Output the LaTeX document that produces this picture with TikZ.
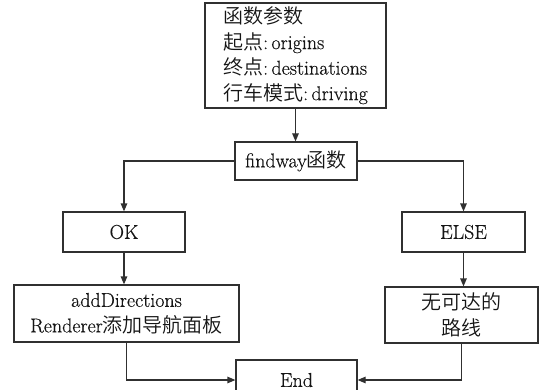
\documentclass[tikz,border=0pt]{standalone}
\usepackage{fontspec}
\setmainfont{Latin Modern Roman}[FakeBold=0.45]
\newfontfamily\cjk{Noto Sans CJK SC}[UprightFont={* DemiLight}]
\newcommand\zh[1]{{\cjk #1}}
\usetikzlibrary{arrows.meta}
\definecolor{ln}{HTML}{303030}
\definecolor{txt}{HTML}{151515}
\tikzset{
  box/.style={draw=ln, line width=1.2pt, text=txt, inner sep=0pt, align=center,
    font=\fontsize{20}{25.5}\selectfont},
  conn/.style={draw=ln, line width=1.2pt, -{Triangle[length=8pt,width=6.5pt]}}
}
\begin{document}
\begin{tikzpicture}[x=1pt,y=-1pt]
\clip (0,0) rectangle (540,390);
\useasboundingbox (0,0) rectangle (540,390);
\node[box, minimum width=181pt, minimum height=105pt, align=left] (params) at (295.5,55.5)
  {\zh{函数参数}\\\zh{起点}:\,origins\\\zh{终点}:\,destinations\\\zh{行车模式}:\,driving};
\node[box, minimum width=122pt, minimum height=38pt] (find) at (296,161) {findway\zh{函数}};
\node[box, minimum width=122pt, minimum height=40pt] (ok) at (124,232) {OK};
\node[box, minimum width=123pt, minimum height=40pt] (else) at (463.5,232) {ELSE};
\node[box, minimum width=225pt, minimum height=57pt] (add) at (126.5,313.5) {addDirections\\Renderer\zh{添加导航面板}};
\node[box, minimum width=153pt, minimum height=56pt] (nr) at (461.5,315) {\zh{无可达的}\\\zh{路线}};
\node[box, minimum width=121pt, minimum height=40pt] (end) at (296.5,380) {End};
\draw[conn] (params.south) -- (params.south |- find.north);
\draw[conn] (find.west) -| (ok.north);
\draw[conn] (find.east) -| (else.north);
\draw[conn] (ok.south) -- (ok.south |- add.north);
\draw[conn] (else.south) -- (else.south |- nr.north);
\draw[conn] (add.south) |- (end.west);
\draw[conn] (nr.south) |- (end.east);
\end{tikzpicture}
\end{document}
